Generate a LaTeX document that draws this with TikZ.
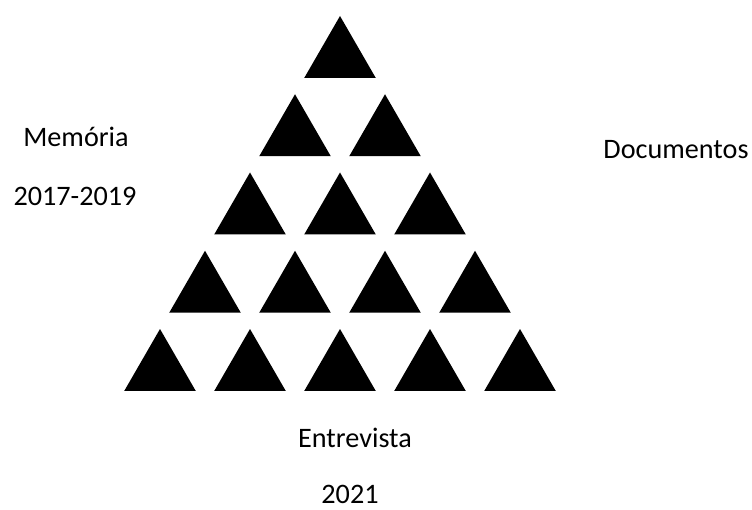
\documentclass[tikz,border=0pt]{standalone}
\usepackage{fontspec}
\setmainfont{Carlito}
\usetikzlibrary{shapes.geometric}

\tikzset{
  tri/.style={regular polygon, regular polygon sides=3, fill=black,
    inner sep=0pt, outer sep=0pt, minimum size=82.6bp},
  lbl/.style={anchor=base, inner sep=0pt, font=\fontsize{28.3}{34}\selectfont}
}

\begin{document}
\begin{tikzpicture}[x=1bp, y=-1bp]
\useasboundingbox (0,0) rectangle (752,510);
% pyramid of triangles
\foreach \r in {0,...,4} {
  \foreach \c in {0,...,\r} {
    \node[tri] (t\r\c) at ({340-45*\r+90*\c}, {57.3+78.25*\r}) {};
  }
}
\node[lbl] (mem) at (76,147) {Memória};
\node[lbl] (memy) at (75,206) {2017-2019};
\node[lbl] (doc) at (676,159) {Documentos};
\node[lbl] (ent) at (355,447) {Entrevista};
\node[lbl] (enty) at (350,503) {2021};
\end{tikzpicture}
\end{document}
